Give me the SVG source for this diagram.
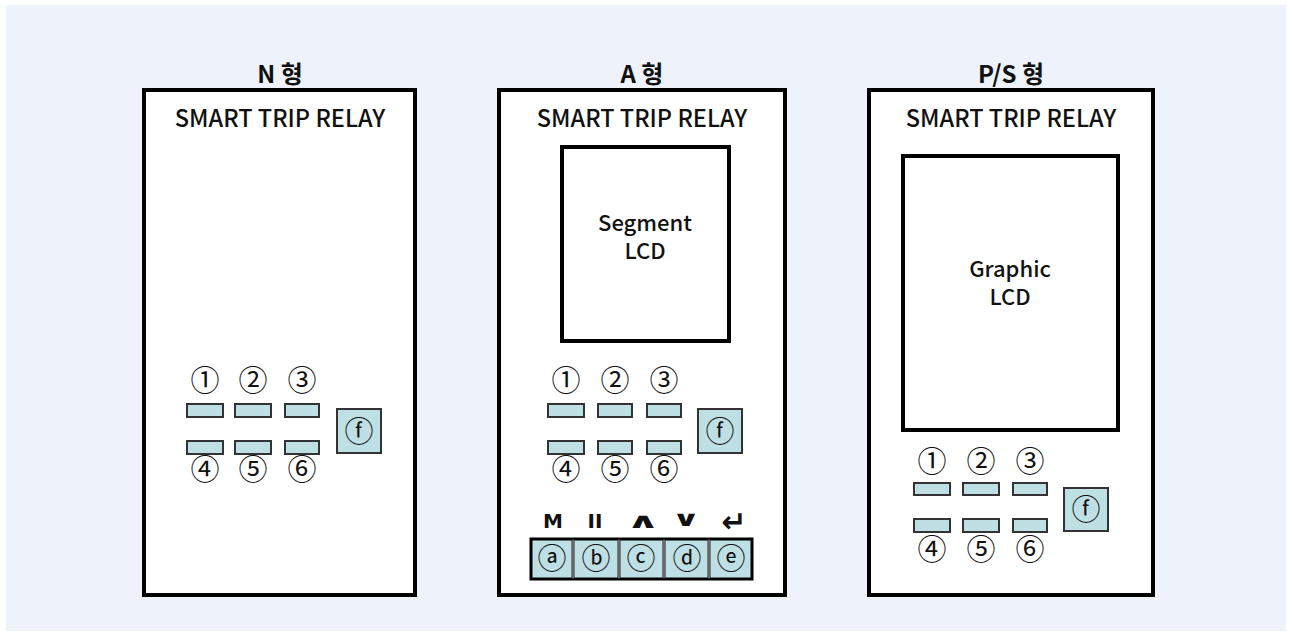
<svg xmlns="http://www.w3.org/2000/svg" width="1292" height="636" viewBox="0 0 1292 636">
<style>
.bg{fill:#EEF3FB}
.panel{fill:#fff;stroke:#000;stroke-width:4}
.lcd{fill:#fff;stroke:#000;stroke-width:4}
.btn{fill:#BEE0E4;stroke:#333;stroke-width:2}
.fbox{fill:#BEE0E4;stroke:#333;stroke-width:2}
.title{font-family:"Noto Sans CJK KR","Noto Sans",sans-serif;font-size:24px;font-weight:bold;text-anchor:middle;fill:#111}
.lbl{font-family:"Noto Sans CJK KR","Noto Sans",sans-serif;font-size:23.5px;font-weight:500;text-anchor:middle;fill:#111}
.lcdt{font-family:"Noto Sans CJK KR","Noto Sans",sans-serif;font-size:22px;font-weight:500;text-anchor:middle;fill:#111}
.num{font-family:"Noto Sans CJK KR","DejaVu Sans",sans-serif;font-size:29px;text-anchor:middle;fill:#111}
.sym{font-family:"DejaVu Sans",sans-serif;font-size:20px;font-weight:bold;text-anchor:middle;fill:#111}
.chev{font-family:"DejaVu Sans",sans-serif;font-size:21px;font-weight:bold;text-anchor:middle;fill:#111}
.big{font-family:"DejaVu Sans",sans-serif;font-size:30px;font-weight:bold;text-anchor:middle;fill:#111}
.bar{fill:#BEE0E4;stroke:#000;stroke-width:3}
.sep{stroke:#222;stroke-width:3}
.sepi{stroke:#aaa;stroke-width:1}
</style>
<rect class="bg" x="6" y="5" width="1280" height="626"/>

<g id="panel-n">
  <text class="title" x="280" y="83">N 형</text>
  <rect class="panel" x="144" y="90" width="271" height="505"/>
  <text class="lbl" x="280" y="127">SMART TRIP RELAY</text>
  <text class="num" x="205" y="391">①</text>
  <text class="num" x="253" y="391">②</text>
  <text class="num" x="302" y="391">③</text>
  <rect class="btn" x="187" y="404" width="36" height="13"/>
  <rect class="btn" x="235" y="404" width="36" height="13"/>
  <rect class="btn" x="285" y="404" width="34" height="13"/>
  <rect class="btn" x="187" y="441" width="36" height="13"/>
  <rect class="btn" x="235" y="441" width="36" height="13"/>
  <rect class="btn" x="285" y="441" width="34" height="13"/>
  <text class="num" x="205" y="480">④</text>
  <text class="num" x="253" y="480">⑤</text>
  <text class="num" x="302" y="480">⑥</text>
  <rect class="fbox" x="337" y="409" width="44" height="44"/>
  <text class="num" x="359" y="442">ⓕ</text>
</g>

<g id="panel-a">
  <text class="title" x="642" y="83">A 형</text>
  <rect class="panel" x="499" y="90" width="286" height="505"/>
  <text class="lbl" x="642" y="127">SMART TRIP RELAY</text>
  <rect class="lcd" x="562" y="147" width="167" height="194"/>
  <text class="lcdt" x="645" y="231">Segment<tspan x="645" dy="28">LCD</tspan></text>
  <text class="num" x="566" y="391">①</text>
  <text class="num" x="615" y="391">②</text>
  <text class="num" x="664" y="391">③</text>
  <rect class="btn" x="548" y="404" width="36" height="13"/>
  <rect class="btn" x="598" y="404" width="34" height="13"/>
  <rect class="btn" x="647" y="404" width="34" height="13"/>
  <rect class="btn" x="548" y="441" width="36" height="13"/>
  <rect class="btn" x="598" y="441" width="34" height="13"/>
  <rect class="btn" x="647" y="441" width="34" height="13"/>
  <text class="num" x="566" y="480">④</text>
  <text class="num" x="615" y="480">⑤</text>
  <text class="num" x="664" y="480">⑥</text>
  <rect class="fbox" x="698" y="409" width="44" height="44"/>
  <text class="num" x="720" y="442">ⓕ</text>
  <text class="sym" x="553" y="528">M</text>
  <text class="sym" x="595" y="528">II</text>
  <text class="chev" transform="translate(643 528) scale(2 1)" x="0" y="0">∧</text>
  <text class="chev" transform="translate(686 526) scale(1.7 1)" x="0" y="0">∨</text>
  <text class="big" x="734" y="532">↵</text>
  <rect class="bar" x="531" y="539" width="221" height="40"/>
  <line class="sep" x1="573" y1="539" x2="573" y2="579"/>
  <line class="sep" x1="619" y1="539" x2="619" y2="579"/>
  <line class="sep" x1="664" y1="539" x2="664" y2="579"/>
  <line class="sep" x1="709" y1="539" x2="709" y2="579"/>
  <line class="sepi" x1="573" y1="540" x2="573" y2="578"/>
  <line class="sepi" x1="619" y1="540" x2="619" y2="578"/>
  <line class="sepi" x1="664" y1="540" x2="664" y2="578"/>
  <line class="sepi" x1="709" y1="540" x2="709" y2="578"/>
  <text class="num" x="552" y="569">ⓐ</text>
  <text class="num" x="596" y="569">ⓑ</text>
  <text class="num" x="641" y="569">ⓒ</text>
  <text class="num" x="687" y="569">ⓓ</text>
  <text class="num" x="731" y="569">ⓔ</text>
</g>

<g id="panel-ps">
  <text class="title" x="1011" y="83">P/S 형</text>
  <rect class="panel" x="869" y="90" width="284" height="505"/>
  <text class="lbl" x="1011" y="127">SMART TRIP RELAY</text>
  <rect class="lcd" x="903" y="156" width="215" height="274"/>
  <text class="lcdt" x="1010" y="277">Graphic<tspan x="1010" dy="28">LCD</tspan></text>
  <text class="num" x="932" y="472">①</text>
  <text class="num" x="981" y="472">②</text>
  <text class="num" x="1030" y="472">③</text>
  <rect class="btn" x="914" y="483" width="36" height="12"/>
  <rect class="btn" x="963" y="483" width="36" height="12"/>
  <rect class="btn" x="1013" y="483" width="34" height="12"/>
  <rect class="btn" x="914" y="519" width="36" height="13"/>
  <rect class="btn" x="963" y="519" width="36" height="13"/>
  <rect class="btn" x="1013" y="519" width="34" height="13"/>
  <text class="num" x="932" y="560">④</text>
  <text class="num" x="981" y="560">⑤</text>
  <text class="num" x="1030" y="560">⑥</text>
  <rect class="fbox" x="1064" y="488" width="44" height="43"/>
  <text class="num" x="1086" y="520">ⓕ</text>
</g>
<g id="connectors"></g>
</svg>
